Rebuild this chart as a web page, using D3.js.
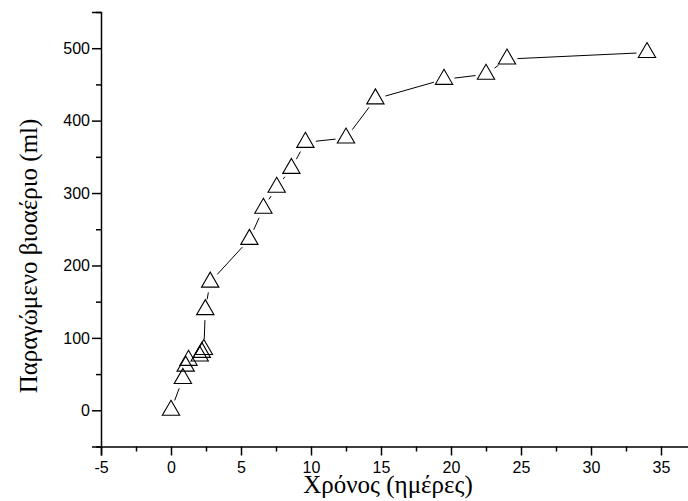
<!DOCTYPE html>
<html>
<head>
<meta charset="utf-8">
<script src="https://cdn.jsdelivr.net/npm/d3@7/dist/d3.min.js"></script>
<style>
  html, body { margin: 0; padding: 0; background: #fff; }
  svg { display: block; }
</style>
</head>
<body>
<svg id="chart" width="688" height="501"></svg>
<script>
// Data
const days   = [0, 0.85, 1.05, 1.25, 2.05, 2.2, 2.35, 2.45, 2.8, 5.6, 6.6, 7.55, 8.6, 9.6, 12.5, 14.6, 19.5, 22.5, 24, 34];
const biogas = [0, 44, 61, 69, 75, 80, 84, 139, 177, 236, 279, 308, 334, 370, 376, 430, 457, 464, 485, 494];
const xMajorTicks = [-5, 0, 5, 10, 15, 20, 25, 30, 35];
const xMinorTicks = [-2.5, 2.5, 7.5, 12.5, 17.5, 22.5, 27.5, 32.5];
const yMajorTicks = [0, 100, 200, 300, 400, 500];
const yMinorTicks = [-50, 50, 150, 250, 350, 450, 550];
const xTitle = "Χρόνος (ημέρες)";
const yTitle = "Παραγώμενο βιοαέριο (ml)";

const svg = d3.select("#chart");
const x = d3.scaleLinear().domain([-5, 37]).range([101, 689]);
const y = d3.scaleLinear().domain([-50, 550]).range([446.5, 12]);

const sans = "'Liberation Sans', Arial, sans-serif";
const serif = "'Liberation Serif', 'Times New Roman', serif";
const fmt = d => String(d);

// X axis
const gx = svg.append("g").attr("transform", `translate(0,${y(-50)})`);
gx.call(d3.axisBottom(x).tickValues(xMajorTicks).tickSize(9).tickPadding(6).tickFormat(fmt));
gx.append("g").call(d3.axisBottom(x).tickValues(xMinorTicks).tickSize(5).tickFormat(""));
gx.selectAll(".domain").attr("stroke-width", 1.5);
gx.selectAll(".tick line").attr("stroke-width", 1.5);
gx.selectAll("text").attr("font-family", sans).attr("font-size", 16).attr("fill", "#000");
gx.selectAll("g > g .domain").remove();

// Y axis
const gy = svg.append("g").attr("transform", `translate(${x(-5)},0)`);
gy.call(d3.axisLeft(y).tickValues(yMajorTicks).tickSize(9).tickPadding(2).tickFormat(fmt));
gy.append("g").call(d3.axisLeft(y).tickValues(yMinorTicks).tickSize(5).tickFormat(""));
gy.selectAll(".domain").attr("stroke-width", 1.5);
gy.selectAll(".tick line").attr("stroke-width", 1.5);
gy.selectAll("text").attr("font-family", sans).attr("font-size", 16).attr("fill", "#000");
gy.selectAll("g > g .domain").remove();

// Connecting line segments with gaps around markers
const pts = days.map((d, i) => [x(d), y(biogas[i])]);
const gap = 10.5;
const segs = [];
for (let i = 0; i < pts.length - 1; i++) {
  const [x1, y1] = pts[i], [x2, y2] = pts[i + 1];
  const dx = x2 - x1, dy = y2 - y1, L = Math.hypot(dx, dy);
  if (L > 2 * gap) {
    const ux = dx / L, uy = dy / L;
    segs.push([x1 + ux * gap, y1 + uy * gap, x2 - ux * gap, y2 - uy * gap]);
  }
}
svg.append("g").selectAll("line").data(segs).join("line")
  .attr("x1", d => d[0]).attr("y1", d => d[1])
  .attr("x2", d => d[2]).attr("y2", d => d[3])
  .attr("stroke", "#000").attr("stroke-width", 1);

// Triangle markers
const tri = d3.symbol().type(d3.symbolTriangle).size(130);
svg.append("g").selectAll("path").data(days).join("path")
  .attr("d", tri)
  .attr("transform", (d, i) => `translate(${x(d)},${y(biogas[i])})`)
  .attr("fill", "none").attr("stroke", "#000").attr("stroke-width", 1.1);

// Axis titles
svg.append("text")
  .attr("x", 388).attr("y", 493)
  .attr("text-anchor", "middle")
  .attr("font-family", serif).attr("font-size", 25).attr("fill", "#000")
  .text(xTitle);

svg.append("text")
  .attr("transform", `translate(37,256) rotate(-90)`)
  .attr("text-anchor", "middle")
  .attr("font-family", serif).attr("font-size", 25).attr("fill", "#000")
  .text(yTitle);
</script>
</body>
</html>
